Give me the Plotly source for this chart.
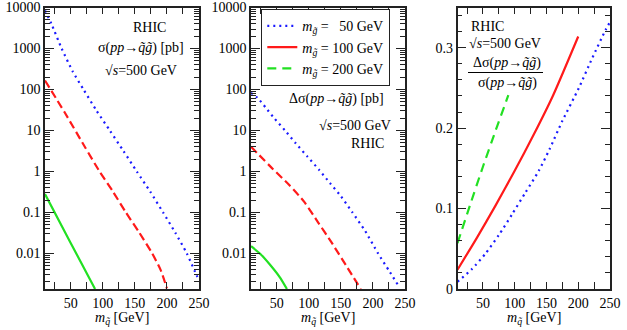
import plotly.graph_objects as go

# ---------------- data ----------------
# Panel 1: sigma(pp -> squark gluino) [pb]
m_sig_50 = [10, 20, 36, 53, 70, 90, 111, 132, 153, 174, 194, 213, 231, 244, 250]
sig_50 = [8500, 4000, 1000, 280, 100, 31, 10, 3.2, 1.0, 0.32, 0.1, 0.032, 0.01, 0.0035, 0.0022]
m_sig_100 = [10, 41, 72, 95, 116, 136, 157, 177, 190, 200]
sig_100 = [166, 27, 4.0, 1.0, 0.32, 0.1, 0.032, 0.01, 0.004, 0.0014]
m_sig_200 = [10, 50, 88]
sig_200 = [0.28, 0.018, 0.00135]

# Panel 2: Delta sigma [pb]
m_dsig_50 = [10, 20, 33, 45, 63, 80, 98, 116, 133, 150, 168, 188, 208, 225, 239]
dsig_50 = [83, 63, 36, 21, 10, 4.8, 2.3, 1.1, 0.52, 0.25, 0.1, 0.035, 0.01, 0.0038, 0.0017]
m_dsig_100 = [10, 44, 70, 93, 114, 135, 158, 181]
dsig_100 = [4.0, 1.15, 0.46, 0.18, 0.059, 0.019, 0.0051, 0.00135]
m_dsig_200 = [10, 25, 40, 55, 66]
dsig_200 = [0.015, 0.0095, 0.0052, 0.0026, 0.00135]

# Panel 3: asymmetry Delta sigma / sigma
m_asym_50 = [10, 33, 54, 75, 96, 117, 138, 155, 175, 201, 222, 243, 250]
asym_50 = [0.009, 0.025, 0.044, 0.067, 0.093, 0.12, 0.147, 0.174, 0.209, 0.25, 0.287, 0.322, 0.332]
m_asym_100 = [10, 40, 70, 100, 130, 160, 200]
asym_100 = [0.024, 0.063, 0.104, 0.147, 0.192, 0.240, 0.314]
m_asym_200 = [10, 30, 50, 70, 90]
asym_200 = [0.057, 0.105, 0.152, 0.197, 0.241]

x_ticks = [50, 100, 150, 200, 250]
log_tickvals = [0.01, 0.1, 1, 10, 100, 1000, 10000]
log_ticktext = ["0.01", "0.1", "1", "10", "100", "1000", "10000"]
lin_tickvals = [0, 0.1, 0.2, 0.3]
lin_ticktext = ["0", "0.1", "0.2", "0.3"]
legend_labels = ["<i>m</i><sub><i>g̃</i></sub> = \u200750 GeV",
                 "<i>m</i><sub><i>g̃</i></sub> = 100 GeV",
                 "<i>m</i><sub><i>g̃</i></sub> = 200 GeV"]

# ---------------- style ----------------
W, H = 627, 330
FONT = "Liberation Serif, Times New Roman, serif"
BLUE, RED, GREEN = "#1a1aff", "#ff1a1a", "#22e022"
DOT = "2px,4px"
DASH_RED = "8px,4px"
DASH_GREEN = "9px,6px"

def px_x(p):
    return p / W

def px_y(p):
    return 1 - p / H

fig = go.Figure()

def add(x, y, ax, color, dash, name=None, show=False):
    fig.add_trace(go.Scatter(
        x=x, y=y, mode="lines", xaxis="x" + ax, yaxis="y" + ax,
        line=dict(color=color, width=2.2, dash=dash, shape="spline", smoothing=0.6),
        name=name, showlegend=show))

# panel 1
add(m_sig_50, sig_50, "", BLUE, DOT)
add(m_sig_100, sig_100, "", RED, DASH_RED)
add(m_sig_200, sig_200, "", GREEN, "solid")
# panel 2
add(m_dsig_50, dsig_50, "2", BLUE, DOT)
add(m_dsig_100, dsig_100, "2", RED, DASH_RED)
add(m_dsig_200, dsig_200, "2", GREEN, "solid")
# panel 3 (carries the legend)
add(m_asym_50, asym_50, "3", BLUE, DOT, legend_labels[0], True)
add(m_asym_100, asym_100, "3", RED, "solid", legend_labels[1], True)
add(m_asym_200, asym_200, "3", GREEN, DASH_GREEN, legend_labels[2], True)

ydom = [px_y(289), px_y(7.5)]
xdoms = [[px_x(45), px_x(199)], [px_x(251), px_x(405)], [px_x(457.5), px_x(610)]]

axis_common = dict(
    showgrid=False, zeroline=False, showline=True, linecolor="#222", linewidth=1.6,
    mirror="allticks", ticks="inside", tickcolor="#222", tickwidth=1.3,
    tickfont=dict(family=FONT, size=14, color="black"), automargin=False,
    ticklabeloverflow="allow",
)

layout = dict(
    width=W, height=H, margin=dict(l=0, r=0, t=0, b=0),
    paper_bgcolor="white", plot_bgcolor="white",
    font=dict(family=FONT, size=14, color="black"),
    legend=dict(x=px_x(261), y=px_y(9), xanchor="left", yanchor="top",
                bgcolor="white", bordercolor="#222", borderwidth=1.3,
                font=dict(family=FONT, size=14, color="black"),
                itemwidth=30, tracegroupgap=0),
    showlegend=True,
)

for i, suffix in enumerate(["", "2", "3"]):
    layout["xaxis" + suffix] = dict(
        axis_common, domain=xdoms[i], range=[10, 250], tickvals=x_ticks,
        ticklen=7, anchor="y" + suffix,
        minor=dict(dtick=25, tick0=0, ticks="inside", ticklen=7, tickcolor="#222", tickwidth=1.3),
    )
    if i < 2:
        layout["yaxis" + suffix] = dict(
            axis_common, domain=ydom, type="log", range=[-2.87, 4.002],
            tickvals=log_tickvals, ticktext=log_ticktext, ticklen=9,
            anchor="x" + suffix,
            minor=dict(dtick="D1", ticks="inside", ticklen=5, tickcolor="#222", tickwidth=1.1),
        )
    else:
        layout["yaxis" + suffix] = dict(
            axis_common, domain=ydom, range=[0, 0.35],
            tickvals=lin_tickvals, ticktext=lin_ticktext, ticklen=9,
            anchor="x" + suffix,
            minor=dict(dtick=0.02, tick0=0, ticks="inside", ticklen=5, tickcolor="#222", tickwidth=1.1),
        )

fig.update_layout(**layout)

proc = "(<i>pp</i>→<i>q̃g̃</i>)"
anns = [
    # panel 1
    ("RHIC", 149, 28, "center"),
    ("σ" + proc + " [pb]", 141, 48, "center"),
    ("√<i>s</i>=500 GeV", 141, 71, "center"),
    # panel 2
    ("Δσ" + proc + " [pb]", 336, 99, "center"),
    ("√<i>s</i>=500 GeV", 355, 125, "center"),
    ("RHIC", 367, 143, "center"),
    # panel 3
    ("RHIC", 469, 27, "left"),
    ("√<i>s</i>=500 GeV", 467, 44, "left"),
    ("Δσ" + proc, 507, 63, "center"),
    ("σ" + proc, 507, 83, "center"),
]
for text, x, y, anchor in anns:
    fig.add_annotation(text=text, x=px_x(x), y=px_y(y), xref="paper", yref="paper",
                       xanchor=anchor, yanchor="middle", showarrow=False,
                       font=dict(family=FONT, size=14, color="black"))

# x-axis titles
for cx in [122, 328, 534]:
    fig.add_annotation(text="<i>m</i><sub><i>q̃</i></sub> [GeV]", x=px_x(cx), y=px_y(318),
                       xref="paper", yref="paper", xanchor="center", yanchor="middle",
                       showarrow=False, font=dict(family=FONT, size=14, color="black"))

# fraction bar
fig.add_shape(type="line", xref="paper", yref="paper",
              x0=px_x(468), x1=px_x(543), y0=px_y(72.5), y1=px_y(72.5),
              line=dict(color="black", width=1))

fig.write_html("out.html", config={"displayModeBar": False},
               post_script="document.body.style.margin='0';")
